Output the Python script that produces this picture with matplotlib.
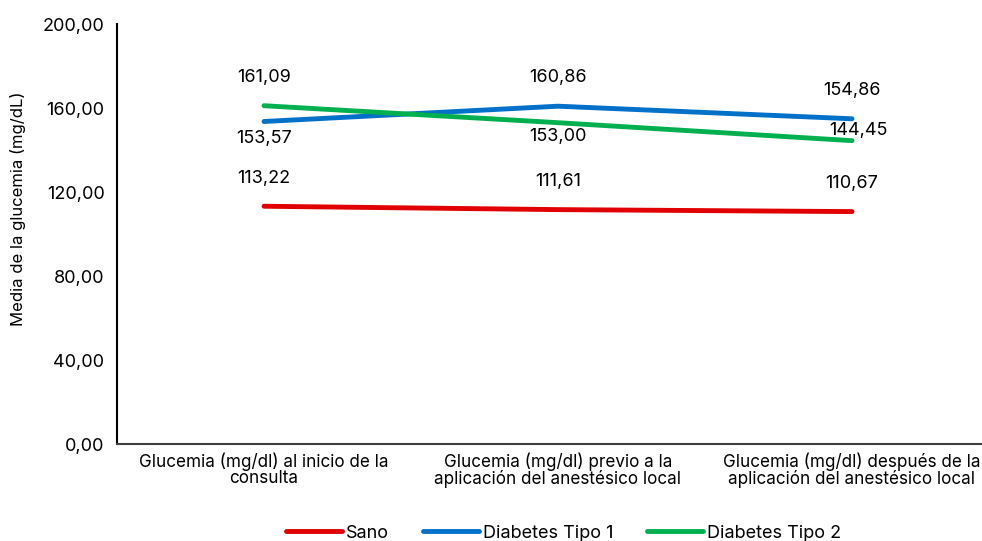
import matplotlib
matplotlib.use('Agg')
import matplotlib.pyplot as plt

categorias = ['Glucemia (mg/dl) al inicio de la\nconsulta',
              'Glucemia (mg/dl) previo a la\naplicación del anestésico local',
              'Glucemia (mg/dl) después de la\naplicación del anestésico local']
sano = [113.22, 111.61, 110.67]
tipo1 = [153.57, 160.86, 154.86]
tipo2 = [161.09, 153.00, 144.45]
yticks = [0, 40, 80, 120, 160, 200]

plt.rcParams['font.family'] = ['Inter', 'DejaVu Sans']
plt.rcParams['font.size'] = 12.5

fig = plt.figure(figsize=(9.82, 5.41), dpi=100)
# el eje se extiende un poco fuera de la figura, como en la original
ax = fig.add_axes([117 / 982, 1 - 444 / 541, 882 / 982, 420 / 541])

x = range(len(categorias))
ax.plot(x, sano, color='#e00000', lw=3.5, solid_capstyle='round', label='Sano')
ax.plot(x, tipo1, color='#0070c8', lw=3.5, solid_capstyle='round', label='Diabetes Tipo 1')
ax.plot(x, tipo2, color='#00b04f', lw=3.5, solid_capstyle='round', label='Diabetes Tipo 2')

def fmt(v):
    return f'{v:.2f}'.replace('.', ',')

# desplazamientos de etiquetas (dy, dx) en px
offs = {
    'sano': [(28, 0), (28, 0), (28, 0)],
    'tipo1': [(-17, 0), (29, 0), (28, 0)],
    'tipo2': [(28, 0), (-14, 0), (10, 6)],
}
for name, vals in (('sano', sano), ('tipo1', tipo1), ('tipo2', tipo2)):
    for i, v in enumerate(vals):
        dy, dx = offs[name][i]
        ax.annotate(fmt(v), (i, v), xytext=(dx, dy), textcoords='offset pixels',
                    ha='center', va='center', fontsize=13)

ax.set_xlim(-0.5, 2.5)
ax.set_ylim(0, 200)
ax.set_yticks(yticks)
ax.set_yticklabels([fmt(t) for t in yticks], fontsize=13)
ax.set_xticks(list(x))
ax.set_xticklabels(categorias, linespacing=0.95, fontsize=12.3)
ax.tick_params(axis='both', length=0, pad=6)
ax.tick_params(axis='y', pad=9)
ax.set_ylabel('Media de la glucemia (mg/dL)', fontsize=12)
ax.yaxis.set_label_coords(-0.103, 0.56)

ax.spines['top'].set_visible(False)
ax.spines['right'].set_visible(False)
ax.spines['left'].set_color('black')
ax.spines['left'].set_linewidth(1.5)
ax.spines['bottom'].set_color('#404040')
ax.spines['bottom'].set_linewidth(1.5)

fig.legend(loc='center', bbox_to_anchor=(0.574, 1 - 533 / 541), ncol=3,
           frameon=False, handlelength=3.1, handletextpad=0.2, columnspacing=1.9,
           fontsize=13)

fig.savefig('out.png', dpi=100)
